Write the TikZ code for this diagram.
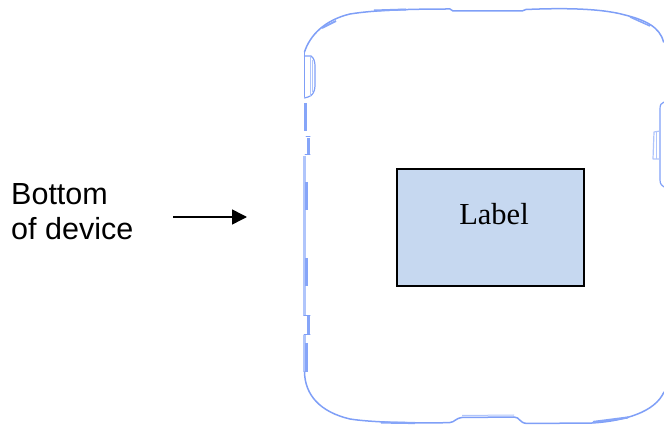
\documentclass[tikz,border=0pt]{standalone}
\usepackage{fontspec}
\setmainfont{Liberation Serif}
\newfontfamily\arialish{Liberation Sans}
\usetikzlibrary{arrows.meta}
\definecolor{devline}{HTML}{7F9FF7}
\definecolor{devthick}{HTML}{B0C5FB}
\definecolor{devpatch}{HTML}{86A5F8}
\definecolor{labelfill}{HTML}{C6D8F0}
\tikzset{
  x=1pt,y=-1pt,
  outline/.style={draw=devline,line width=1.5pt,line join=round,line cap=round},
  softpart/.style={draw=devthick,line width=3.5pt,line cap=butt},
  patchpart/.style={draw=devpatch,line width=3pt,line cap=butt},
  thinpart/.style={draw=devthick,line width=1pt},
  sidetext/.style={font=\arialish\fontsize{30.5}{35}\selectfont,align=left,anchor=north west,inner sep=0pt},
  labelbox/.style={draw=black,line width=1.5pt,fill=labelfill,minimum width=187pt,minimum height=117pt,inner sep=0pt},
  labeltext/.style={font=\fontsize{30.5}{35}\selectfont,inner sep=0pt},
  pointer/.style={draw=black,line width=1.5pt,-{Triangle[length=15pt,width=15pt]}}
}
\begin{document}
\begin{tikzpicture}
\useasboundingbox (0,0) rectangle (664,427);
\clip (0,0) rectangle (664,427);
% device outline: top and corners
\draw[outline] (304.5,52) .. controls (310,35) and (325,20) .. (350,14)
  .. controls (375,10) and (410,9) .. (450,9)
  -- (453,11) -- (522,11) -- (526,9.5)
  .. controls (560,8) and (600,8) .. (625,15)
  .. controls (645,20) and (660,27) .. (663.5,42);
\draw[patchpart,line width=1.8pt] (322,28) -- (336,21);
\draw[patchpart,line width=2pt] (374,10.5) -- (406,9.5);
\draw[patchpart,line width=1.5pt] (630,17) -- (650,26);
% left side
\draw[outline] (304.5,52) -- (304.5,97);
\draw[outline,line width=1.2pt] (304.5,56) -- (311,56) .. controls (314,58) and (315,62) .. (315,66)
  -- (315,86) .. controls (315,92) and (312,96) .. (308,97) -- (304.5,98);
\draw[thinpart] (310,57) -- (310,96);
\draw[thinpart] (312.5,60) -- (312.5,92);
\draw[patchpart] (305.5,103) -- (305.5,131);
\draw[patchpart] (308.5,138) -- (308.5,155);
\draw[outline,line width=1pt] (306,137) -- (310,137) (305,155) -- (310,155);
\draw[softpart] (304.5,156) -- (304.5,316);
\draw[patchpart] (306,182) -- (306,210);
\draw[patchpart] (306,258) -- (306,286);
\draw[patchpart] (308.5,316) -- (308.5,335);
\draw[outline,line width=1pt] (304,316) -- (310,316) (304,335) -- (310,335);
\draw[softpart] (304.5,335) -- (304.5,372);
\draw[patchpart] (306,343) -- (306,372);
% bottom
\draw[outline] (304.5,372) .. controls (305,395) and (320,412) .. (350,419)
  .. controls (375,423) and (430,423.5) .. (450,422.5)
  .. controls (455,422) and (455,418.5) .. (462,417.5)
  -- (514,417) .. controls (520,417) and (519,423) .. (527,423.5)
  -- (592,423) .. controls (625,421) and (655,412) .. (664,392);
\draw[patchpart,line width=2.2pt] (381,422.5) -- (415,423);
\draw[thinpart] (462,415.5) -- (514,415);
\draw[patchpart,line width=2.2pt] (593,422) -- (628,417.5);
% right side
\draw[outline,line width=1.2pt] (664,102) .. controls (661,103) and (660,105) .. (660,109)
  -- (660,180) .. controls (660,184) and (662,186) .. (664,187);
\draw[outline,line width=1.2pt,draw=devthick] (660,131) -- (654,132) -- (653,159) -- (660,159);
\draw[thinpart] (656,132) -- (656,159);
% label and annotation
\node[labelbox] (lbl) at (490.5,227.5) {};
\node[labeltext] (lbltext) at (494,214) {Label};
\node[sidetext] (side) at (11,183.5) {Bottom\\of device};
\coordinate (from) at (173,217);
\coordinate (to) at (247,217);
\draw[pointer] (from) -- (to);
\end{tikzpicture}
\end{document}
